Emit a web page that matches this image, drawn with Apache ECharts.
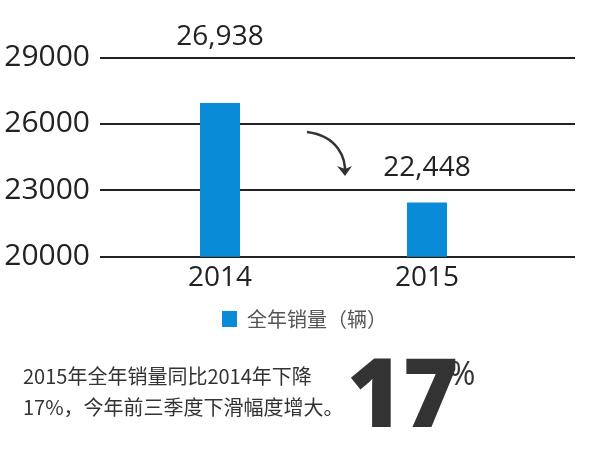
<!DOCTYPE html>
<html>
<head>
<meta charset="utf-8">
<script src="https://cdn.jsdelivr.net/npm/echarts@6/dist/echarts.min.js"></script>
<style>
html,body{margin:0;padding:0;background:#fff;}
#main{width:600px;height:450px;}
</style>
</head>
<body>
<div id="main"></div>
<script>
var categories = ['2014', '2015'];
var salesValues = [26938, 22448];
var valueLabels = ['26,938', '22,448'];
var yTicks = [20000, 23000, 26000, 29000];
var seriesName = '全年销量（辆）';
var noteLines = ['2015年全年销量同比2014年下降', '17%，今年前三季度下滑幅度增大。'];
var bigNumber = '17';
var bigUnit = '%';

var labelDistances = [52, 20];
var numFont = '"Open Sans", "Noto Sans", sans-serif';
var cjkFont = '"Noto Sans CJK SC", "Noto Sans", sans-serif';

var chart = echarts.init(document.getElementById('main'));

var barData = salesValues.map(function (v, i) {
  return {
    value: v,
    label: { distance: labelDistances[i], formatter: valueLabels[i] }
  };
});

var option = {
  backgroundColor: '#ffffff',
  animation: false,
  grid: [
    { left: 100, right: 25, top: 57.3, bottom: 193.3, containLabel: false, outerBoundsMode: 'none' },
    { left: 116.5, width: 414, top: 57.3, bottom: 193.3, containLabel: false, outerBoundsMode: 'none' }
  ],
  xAxis: [
    { gridIndex: 0, type: 'category', data: categories, show: false },
    {
      gridIndex: 1, type: 'category', data: categories,
      axisLine: { show: false }, axisTick: { show: false },
      axisLabel: { color: '#222', fontSize: 28, fontFamily: numFont, margin: 7 }
    }
  ],
  yAxis: [
    {
      gridIndex: 0, type: 'value', min: yTicks[0], max: yTicks[yTicks.length - 1], interval: 3000,
      axisLine: { show: false }, axisTick: { show: false },
      axisLabel: {
        color: '#222', fontSize: 30, fontFamily: numFont, margin: 10, padding: [6, 0, 0, 0],
        formatter: function (v) { return String(v); }
      },
      splitLine: { lineStyle: { color: '#222', width: 2 } }
    },
    {
      gridIndex: 1, type: 'value', min: yTicks[0], max: yTicks[yTicks.length - 1], interval: 3000,
      show: false, splitLine: { show: false }
    }
  ],
  legend: {
    left: 217, top: 304,
    icon: 'rect', itemWidth: 15, itemHeight: 16,
    textStyle: { fontSize: 20, color: '#555', fontFamily: cjkFont, padding: [0, 0, 0, 5] },
    data: [seriesName]
  },
  series: [{
    name: seriesName,
    type: 'bar',
    xAxisIndex: 1, yAxisIndex: 1,
    barWidth: 40,
    itemStyle: { color: '#0a8bd8' },
    label: { show: true, position: 'top', color: '#222', fontSize: 28, fontFamily: numFont },
    data: barData
  }],
  graphic: [
    {
      type: 'bezierCurve',
      shape: { x1: 307, y1: 132, cpx1: 338, cpy1: 136, cpx2: 346, cpy2: 158, x2: 345, y2: 174 },
      style: { stroke: '#333', lineWidth: 2.5, fill: null }
    },
    {
      type: 'polygon',
      shape: { points: [[337, 166], [345, 176], [352, 166], [345, 169]] },
      style: { fill: '#333' }
    },
    {
      type: 'text', left: 23, top: 361,
      style: { text: noteLines.join('\n'), font: '20px ' + cjkFont, fill: '#333', lineHeight: 31 }
    },
    {
      type: 'text', x: 347, y: 400,
      style: { text: bigNumber, fill: '#333', fontSize: 95, fontWeight: 900, fontFamily: numFont, verticalAlign: 'middle', align: 'left' }
    },
    {
      type: 'text', x: 449, y: 360,
      style: { text: bigUnit, fill: '#333', fontSize: 32, fontWeight: 'normal', fontFamily: numFont, verticalAlign: 'top', align: 'left' }
    }
  ]
};
chart.setOption(option);
</script>
</body>
</html>
